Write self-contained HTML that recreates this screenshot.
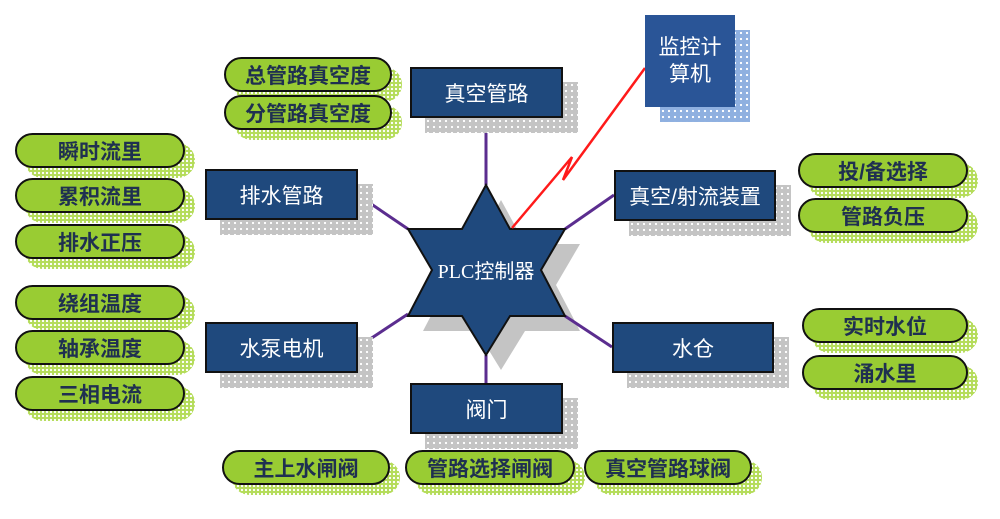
<!DOCTYPE html>
<html><head><meta charset="utf-8"><style>
body{margin:0;width:1000px;height:519px;background:#fff;position:relative;overflow:hidden;font-family:"Liberation Sans","Noto Sans CJK SC",sans-serif}
.b{position:absolute;background:#1f497d;border:2px solid #111;color:#fff;font-size:21px;display:flex;align-items:center;justify-content:center;box-sizing:border-box}
.s{position:absolute;background:#c4c4c4;background-image:radial-gradient(#fff 1px,transparent 1.3px);background-size:6px 6px}
.p{position:absolute;background:#99cc33;border:2px solid #111;border-radius:18px;color:#1f3050;font-size:21px;display:flex;align-items:center;justify-content:center;box-sizing:border-box;font-weight:bold}
.g{position:absolute;background:#b5dc5a;background-image:radial-gradient(#fff 1px,transparent 1.3px);background-size:4px 4px;border-radius:18px}
</style></head><body>
<svg width="1000" height="519" style="position:absolute;left:0;top:0">
<polygon points="501,200 525,244 580,244 556,285 580,331 525,331 501,370 477,331 423,331 447,285 423,244 477,244" fill="#c4c4c4"/>
<g stroke="#5b2d8f" stroke-width="3">
<line x1="486" y1="118" x2="486" y2="185"/><line x1="358" y1="195" x2="408" y2="229"/>
<line x1="358" y1="347" x2="408" y2="314"/><line x1="486" y1="383" x2="486" y2="355"/>
<line x1="614" y1="195" x2="565" y2="229"/><line x1="612" y1="347" x2="565" y2="316"/>
</g>
<polygon points="486,185 510,229 565,229 541,270 565,316 510,316 486,355 462,316 408,316 432,270 408,229 462,229" fill="#1f497d" stroke="#111" stroke-width="2"/>
<polyline points="512,228 572,157 563,180 645,68" fill="none" stroke="#ff1a1a" stroke-width="2.5"/>
<text x="486" y="278" fill="#fff" font-size="20" text-anchor="middle" font-family="Liberation Serif, Noto Sans CJK SC, serif">PLC控制器</text>
</svg>
<div class="s" style="left:425px;top:82px;width:153px;height:51px"></div><div class="b" style="left:410px;top:67px;width:153px;height:51px">真空管路</div>
<div class="s" style="left:220px;top:184px;width:153px;height:51px"></div><div class="b" style="left:205px;top:169px;width:153px;height:51px">排水管路</div>
<div class="s" style="left:220px;top:337px;width:153px;height:51px"></div><div class="b" style="left:205px;top:322px;width:153px;height:51px">水泵电机</div>
<div class="s" style="left:425px;top:398px;width:153px;height:51px"></div><div class="b" style="left:410px;top:383px;width:153px;height:51px">阀门</div>
<div class="s" style="left:629px;top:185px;width:162px;height:51px"></div><div class="b" style="left:614px;top:170px;width:162px;height:51px">真空/射流装置</div>
<div class="s" style="left:627px;top:337px;width:162px;height:51px"></div><div class="b" style="left:612px;top:322px;width:162px;height:51px">水仓</div>
<div class="s" style="left:660px;top:30px;width:90px;height:92px;background-color:#8fb0e0"></div><div class="b" style="left:645px;top:15px;width:90px;height:92px;border:none;background:#2a5597;line-height:27px;text-align:center">监控计<br>算机</div>
<div class="g" style="left:234px;top:67px;width:168px;height:35px"></div><div class="p" style="left:224px;top:57px;width:168px;height:35px">总管路真空度</div>
<div class="g" style="left:234px;top:105px;width:168px;height:35px"></div><div class="p" style="left:224px;top:95px;width:168px;height:35px">分管路真空度</div>
<div class="g" style="left:25px;top:143px;width:170px;height:35px"></div><div class="p" style="left:15px;top:133px;width:170px;height:35px">瞬时流里</div>
<div class="g" style="left:25px;top:188px;width:170px;height:35px"></div><div class="p" style="left:15px;top:178px;width:170px;height:35px">累积流里</div>
<div class="g" style="left:25px;top:234px;width:170px;height:35px"></div><div class="p" style="left:15px;top:224px;width:170px;height:35px">排水正压</div>
<div class="g" style="left:25px;top:295px;width:170px;height:35px"></div><div class="p" style="left:15px;top:285px;width:170px;height:35px">绕组温度</div>
<div class="g" style="left:25px;top:340px;width:170px;height:35px"></div><div class="p" style="left:15px;top:330px;width:170px;height:35px">轴承温度</div>
<div class="g" style="left:25px;top:386px;width:170px;height:35px"></div><div class="p" style="left:15px;top:376px;width:170px;height:35px">三相电流</div>
<div class="g" style="left:808px;top:163px;width:170px;height:35px"></div><div class="p" style="left:798px;top:153px;width:170px;height:35px">投/备选择</div>
<div class="g" style="left:808px;top:208px;width:170px;height:35px"></div><div class="p" style="left:798px;top:198px;width:170px;height:35px">管路负压</div>
<div class="g" style="left:812px;top:318px;width:166px;height:35px"></div><div class="p" style="left:802px;top:308px;width:166px;height:35px">实时水位</div>
<div class="g" style="left:812px;top:365px;width:166px;height:35px"></div><div class="p" style="left:802px;top:355px;width:166px;height:35px">涌水里</div>
<div class="g" style="left:232px;top:460px;width:168px;height:35px"></div><div class="p" style="left:222px;top:450px;width:168px;height:35px">主上水闸阀</div>
<div class="g" style="left:415px;top:460px;width:170px;height:35px"></div><div class="p" style="left:405px;top:450px;width:170px;height:35px">管路选择闸阀</div>
<div class="g" style="left:594px;top:460px;width:168px;height:35px"></div><div class="p" style="left:584px;top:450px;width:168px;height:35px">真空管路球阀</div>
</body></html>
